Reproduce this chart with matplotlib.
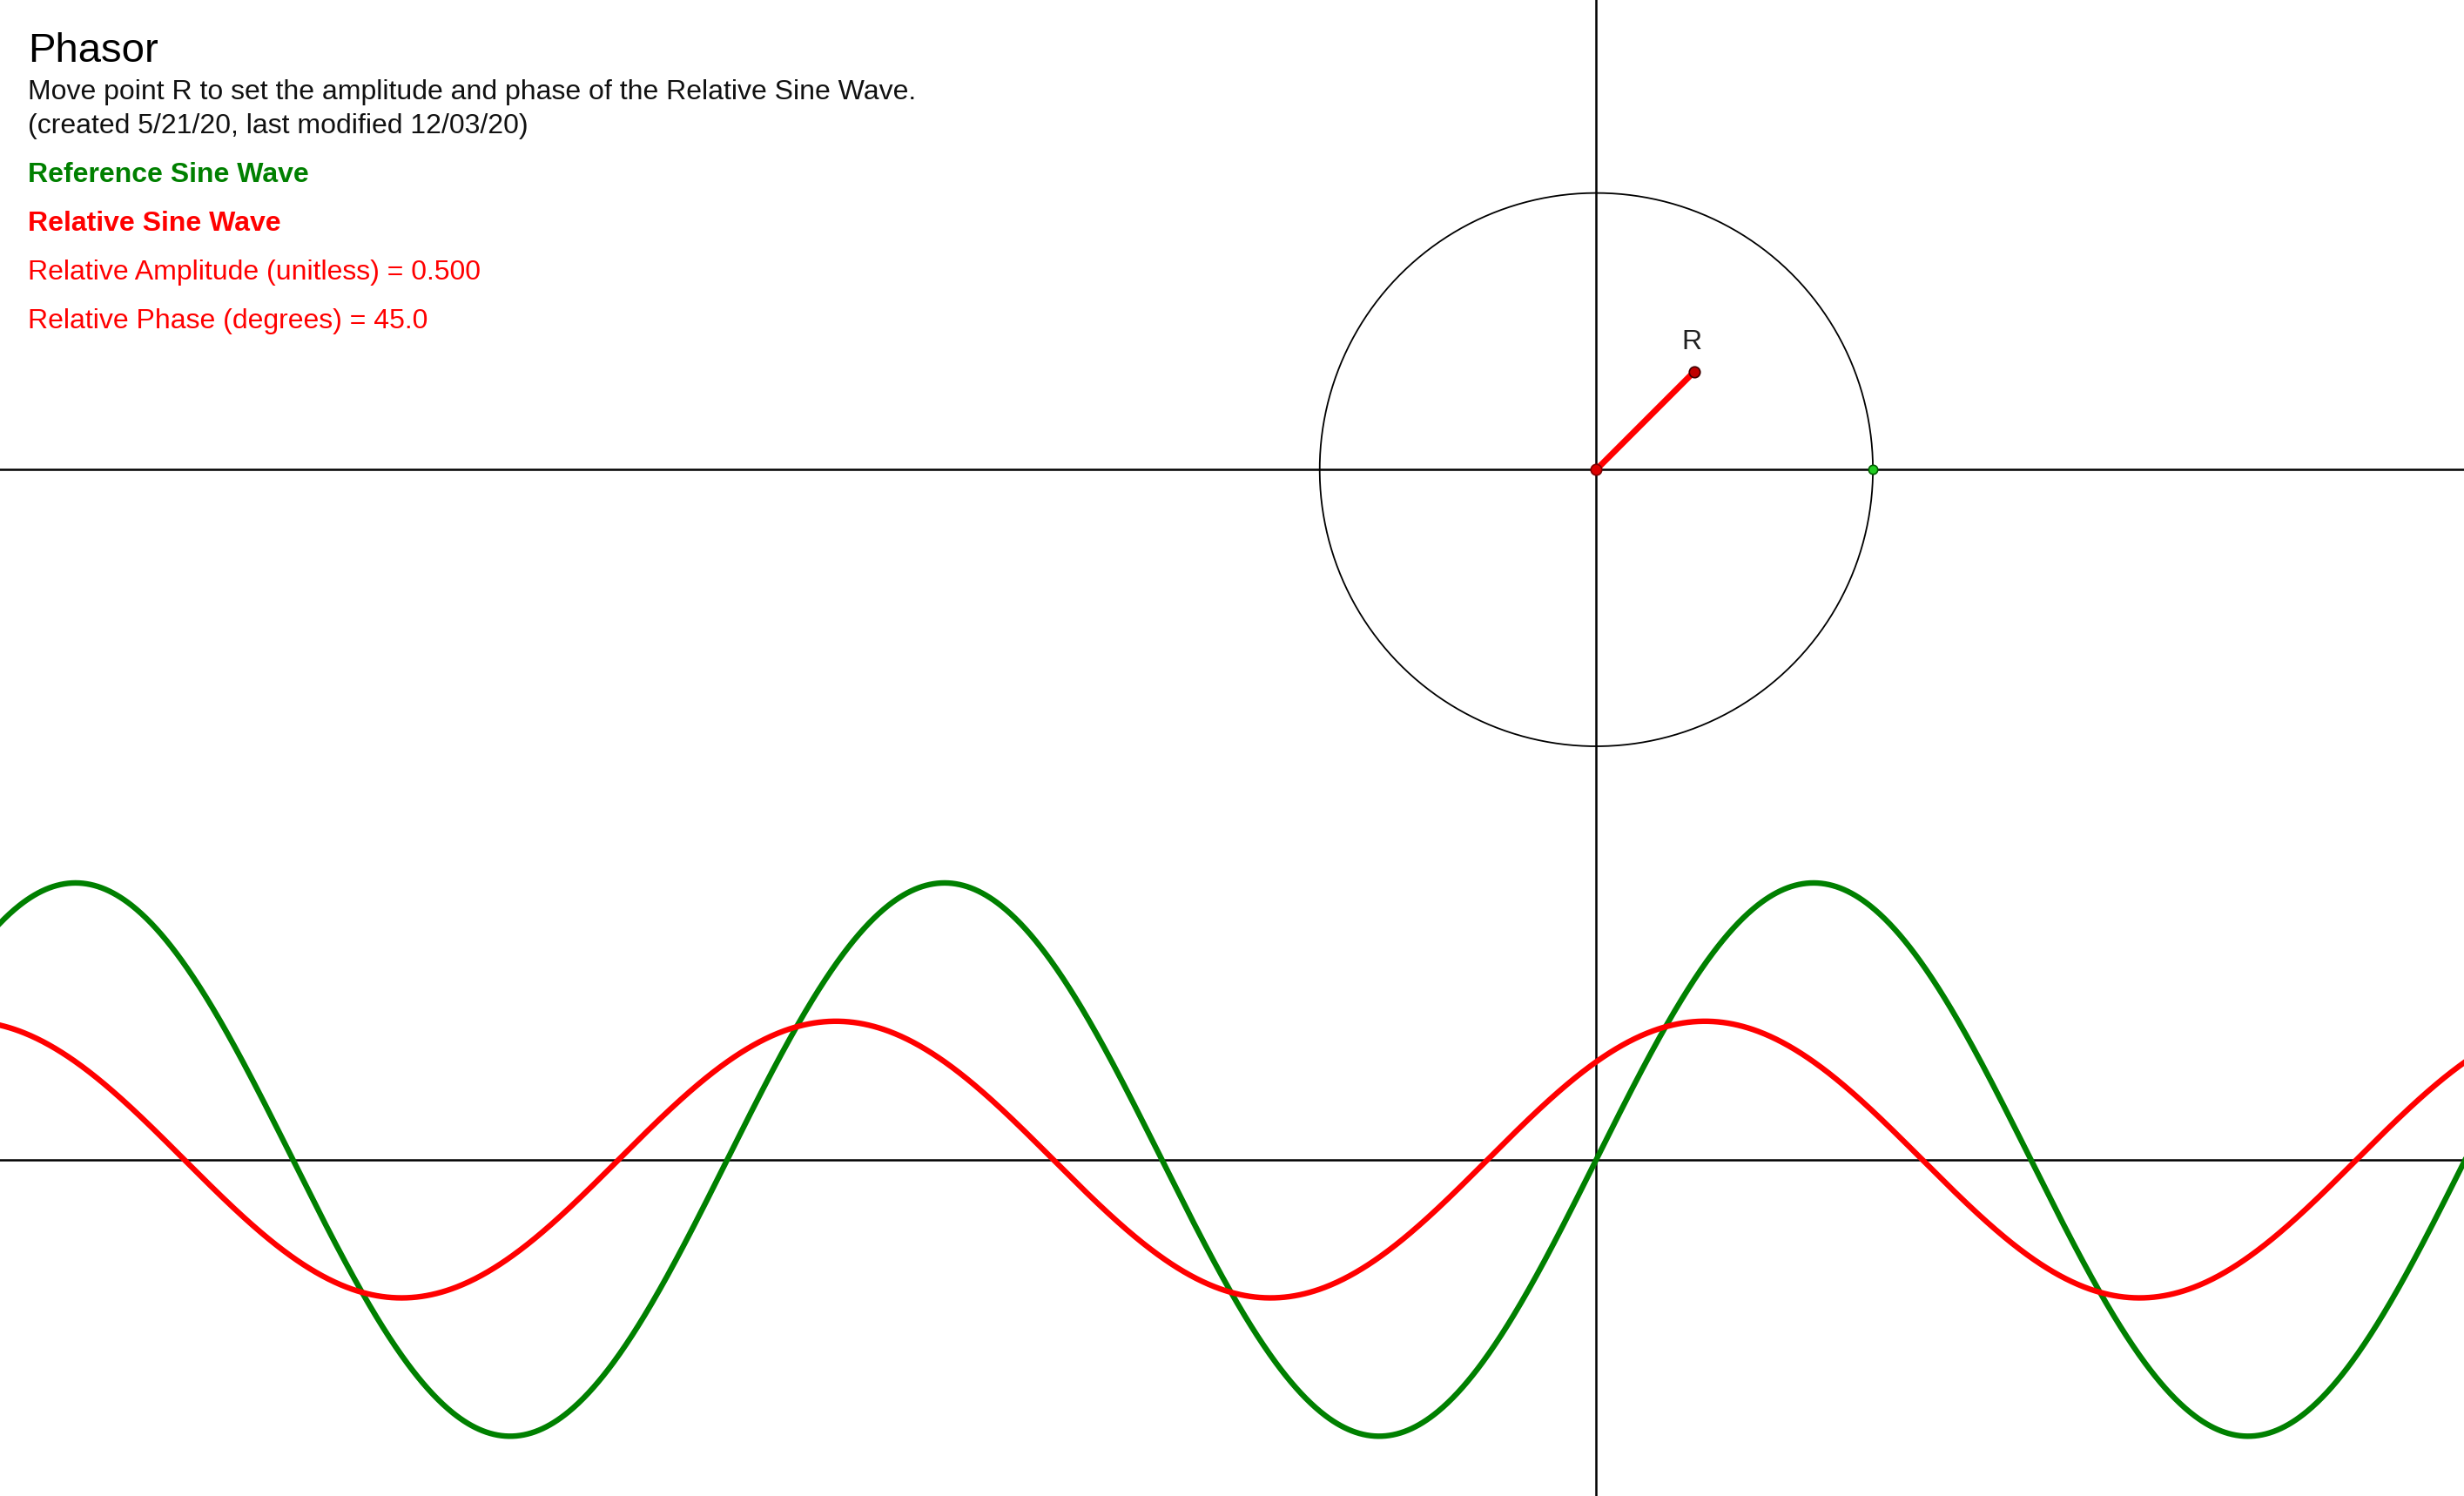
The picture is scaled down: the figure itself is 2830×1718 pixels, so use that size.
import numpy as np
import matplotlib
matplotlib.use("Agg")
import matplotlib.pyplot as plt

plt.rcParams['font.family'] = ['Liberation Sans', 'DejaVu Sans']

# phasor settings shown in the reference
ref_amp = 1.0
rel_amp = 0.5
rel_phase_deg = 45.0
omega = 2.0          # wave angular frequency (period = pi in plot units)
wave_axis_y = -2.494  # baseline of the wave plot

title = "Phasor"
subtitle = ["Move point R to set the amplitude and phase of the Relative Sine Wave.",
            "(created 5/21/20, last modified 12/03/20)"]
ref_label = "Reference Sine Wave"
rel_label = "Relative Sine Wave"
amp_label = "Relative Amplitude (unitless) = %.3f" % rel_amp
phase_label = "Relative Phase (degrees) = %.1f" % rel_phase_deg

W, H = 2830, 1718
GREEN = '#008000'
RED = '#ff0000'

fig = plt.figure(figsize=(W / 100, H / 100), dpi=100)
ax = fig.add_axes([0, 0, 1, 1])
ax.set_xlim(-5.771, 3.137)
ax.set_ylim(-3.710, 1.6975)
ax.set_aspect('equal')
ax.axis('off')

# axes lines
ax.axhline(0, color='black', lw=1.8, zorder=1)
ax.axhline(wave_axis_y, color='black', lw=1.8, zorder=1)
ax.axvline(0, color='black', lw=1.8, zorder=1)

# unit circle
t = np.linspace(0, 2 * np.pi, 400)
ax.plot(ref_amp * np.cos(t), ref_amp * np.sin(t), color='black', lw=1.3, zorder=2)

# waves
x = np.linspace(-5.8, 3.2, 2000)
phi = np.deg2rad(rel_phase_deg)
ax.plot(x, wave_axis_y + ref_amp * np.sin(omega * x), color=GREEN, lw=4.6, zorder=3)
ax.plot(x, wave_axis_y + rel_amp * np.sin(omega * x + phi), color=RED, lw=4.6, zorder=3)

# phasor
rx, ry = rel_amp * np.cos(phi), rel_amp * np.sin(phi)
ax.plot([0, rx], [0, ry], color=RED, lw=5, solid_capstyle='butt', zorder=4)
ax.plot(0, 0, 'o', ms=9, mfc='#dd0000', mec='#800000', mew=1.2, zorder=5)
ax.plot(rx, ry, 'o', ms=9, mfc='#c00000', mec='#400000', mew=1.2, zorder=5)
ax.plot(ref_amp, 0, 'o', ms=7.5, mfc='#22cc22', mec='#006000', mew=1.2, zorder=5)
ax.text(rx - 0.01, ry + 0.06, "R", fontsize=23, color='#222222',
        ha='center', va='bottom', zorder=6)

# text block
def ftext(px, py, s, **kw):
    fig.text(px / W, 1 - py / H, s, va='center', ha='left', **kw)

ftext(32, 59, title, fontsize=34, color='black')
ftext(32, 106, subtitle[0], fontsize=23, color='#111111')
ftext(32, 145, subtitle[1], fontsize=23, color='#111111')
ftext(32, 201, ref_label, fontsize=23, color=GREEN, fontweight='bold')
ftext(32, 257, rel_label, fontsize=23, color=RED, fontweight='bold')
ftext(32, 313, amp_label, fontsize=23, color=RED)
ftext(32, 369, phase_label, fontsize=23, color=RED)

fig.savefig('out.png', dpi=100)
